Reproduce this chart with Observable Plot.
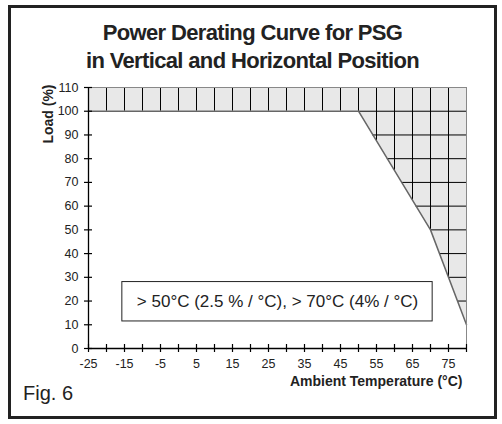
<!DOCTYPE html>
<html>
<head>
<meta charset="utf-8">
<script src="https://cdn.jsdelivr.net/npm/d3@7"></script>
<script src="https://cdn.jsdelivr.net/npm/@observablehq/plot@0.6"></script>
<style>
  body { margin: 0; background: #fff; font-family: "Liberation Sans", Arial, sans-serif; color: #222; }
  #page { position: relative; width: 502px; height: 424px; overflow: hidden; }
  #chart { position: absolute; left: 0; top: 0; }
  #border { position: absolute; left: 8px; top: 5px; width: 483px; height: 408px; border: 3px solid #222; }
  #title { position: absolute; left: 8px; width: 489px; top: 19px; text-align: center; font-weight: bold;
           font-size: 22px; line-height: 28px; letter-spacing: -0.65px; }
  #fig { position: absolute; left: 23px; top: 383px; font-size: 20px; line-height: 20px; }
</style>
</head>
<body>
<div id="page">
  <div id="chart"></div>
  <div id="border"></div>
  <div id="title">Power Derating Curve for PSG<br>in Vertical and Horizontal Position</div>
  <div id="fig">Fig. 6</div>
</div>
<script>
// derating curve (ambient temperature °C -> load %)
const temps = [-25, 50, 70, 80];
const loads = [100, 100, 50, 10];

const xTicks = [-25, -20, -15, -10, -5, 0, 5, 10, 15, 20, 25, 30, 35, 40, 45, 50, 55, 60, 65, 70, 75, 80];
const xTickLabels = [-25, -15, -5, 5, 15, 25, 35, 45, 55, 65, 75];
const yTicks = [0, 10, 20, 30, 40, 50, 60, 70, 80, 90, 100, 110];

// grid only drawn inside the derated (shaded) zone
const gridX = [-20, -15, -10, -5, 0, 5, 10, 15, 20, 25, 30, 35, 40, 45, 50, 55, 60, 65, 70, 75];
const gridY = [100, 90, 80, 70, 60, 50, 40, 30, 20, 10];

const noteText = "> 50°C (2.5 % / °C), > 70°C (4% / °C)";
const noteX = [-15.6, 70.6];
const noteY = [11.4, 28];

const xLabel = "Ambient Temperature (°C)";
const yLabel = "Load (%)";

const curve = temps.map((t, i) => ({t, load: loads[i]}));
const loadAt = d3.scaleLinear().domain(temps).range(loads);
const tempAt = d3.scaleLinear().domain(loads.slice(1)).range(temps.slice(1));

const chart = Plot.plot({
  width: 502,
  height: 424,
  marginLeft: 88,
  marginRight: 36,
  marginTop: 87,
  marginBottom: 76,
  style: {background: "transparent", fontFamily: "Liberation Sans, Arial, sans-serif", fontSize: "12px", color: "#222"},
  x: {domain: [-25, 80], label: null},
  y: {domain: [0, 110], label: null},
  marks: [
    Plot.areaY(curve, {x: "t", y1: "load", y2: 110, fill: "#e8e8e8"}),
    Plot.ruleX(gridX, {x: d => d, y1: d => loadAt(d), y2: 110, stroke: "#000"}),
    Plot.ruleY(gridY, {y: d => d, x1: d => tempAt(d), x2: 80, stroke: "#000"}),
    Plot.line(curve, {x: "t", y: "load", stroke: "#666"}),
    Plot.frame({stroke: "#888"}),
    Plot.ruleX([-25], {stroke: "#000", strokeWidth: 1.3}),
    Plot.ruleY([0], {stroke: "#000", strokeWidth: 1.3}),
    Plot.axisY(yTicks, {tickSize: 8, dx: 4, tickFormat: () => "", stroke: "#000", strokeWidth: 1.2}),
    Plot.axisY(yTicks, {tickSize: 0, tickPadding: 10, tickFormat: d => String(d), fontSize: 12.5}),
    Plot.axisX(xTicks, {tickSize: 8, dy: -4, tickFormat: () => "", stroke: "#000", strokeWidth: 1.2}),
    Plot.axisX(xTickLabels, {tickSize: 0, tickPadding: 11, tickFormat: d => String(d), fontSize: 12.5}),
    Plot.rect([noteText], {x1: noteX[0], x2: noteX[1], y1: noteY[0], y2: noteY[1], fill: "white", stroke: "#222"}),
    Plot.text([noteText], {x: (noteX[0] + noteX[1]) / 2, y: (noteY[0] + noteY[1]) / 2, text: d => d, fontSize: 17, fill: "#222"}),
    Plot.text([xLabel], {frameAnchor: "bottom-right", text: d => d, dx: -4, dy: 37, textAnchor: "end", fontWeight: "bold", fontSize: 14, fill: "#222"}),
    Plot.text([yLabel], {frameAnchor: "top-left", text: d => d, rotate: -90, textAnchor: "end", dx: -45, dy: -3, fontWeight: "bold", fontSize: 14, fill: "#222"})
  ]
});

d3.select("#chart").append(() => chart);
</script>
</body>
</html>
